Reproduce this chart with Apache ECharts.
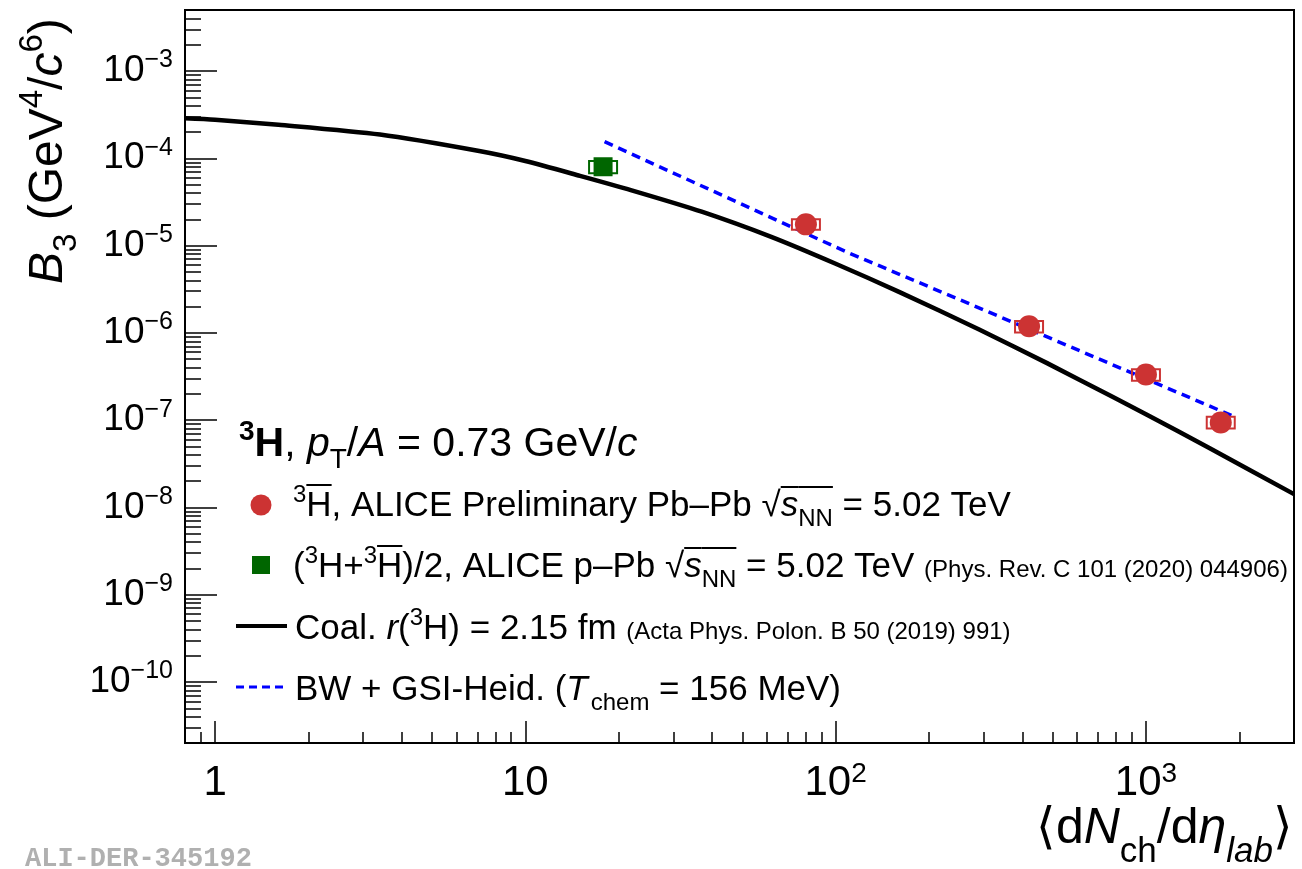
<!DOCTYPE html>
<html>
<head>
<meta charset="utf-8">
<script src="https://cdn.jsdelivr.net/npm/echarts@6/dist/echarts.min.js"></script>
<style>
  html, body { margin: 0; padding: 0; background: #fff; }
  #main { width: 1302px; height: 869px; }
</style>
</head>
<body>
<div id="main"></div>
<script>
// axis ranges (log axes, stored as raw values)
const xRange = [0.8, 3000];
const yRange = [2e-11, 5e-3];
const xMajor = [1, 10, 100, 1000];
const yMajor = [1e-10, 1e-9, 1e-8, 1e-7, 1e-6, 1e-5, 1e-4, 1e-3];

// anti-triton, ALICE preliminary Pb-Pb 5.02 TeV
const pbpbX = [80.2, 420, 1000, 1742];
const pbpbY = [1.75e-5, 1.19e-6, 3.34e-7, 9.42e-8];
const pbpbSysLo = [1.52e-5, 1.01e-6, 2.82e-7, 8.04e-8];
const pbpbSysHi = [2.0e-5, 1.37e-6, 3.84e-7, 1.09e-7];

// (3H + anti-3H)/2, ALICE p-Pb 5.02 TeV
const ppbX = [17.8];
const ppbY = [8.0e-5];
const ppbSysLo = [6.73e-5];
const ppbSysHi = [9.3e-5];

// coalescence, r(3H) = 2.15 fm
const coalX = [0.8, 1, 1.6, 3.4, 7.1, 10, 15, 22, 37, 62, 100, 160, 290, 480, 780, 1000, 1600, 3000];
const coalY = [2.87e-4, 2.76e-4, 2.42e-4, 1.87e-4, 1.21e-4, 9.3e-5, 6.3e-5, 4.3e-5, 2.45e-5, 1.26e-5,
               6.2e-6, 2.95e-6, 1.09e-6, 4.5e-7, 1.85e-7, 1.17e-7, 4.8e-8, 1.42e-8];

// BW + GSI-Heid. (T_chem = 156 MeV)
const bwX = [18, 108, 292, 1935];
const bwY = [1.55e-4, 8.5e-6, 1.91e-6, 1.09e-7];

const lg = Math.log10;
const RED = '#cc3333';
const GREEN = '#006600';
const FONT = '"Liberation Sans", Arial, Helvetica, sans-serif';

// minor ticks 2..9 x 10^n inside a range
function minorTicks(r) {
  const out = [];
  for (let n = Math.floor(lg(r[0])); n <= Math.ceil(lg(r[1])); n++) {
    for (let k = 2; k <= 9; k++) {
      const v = k * Math.pow(10, n);
      if (v >= r[0] && v <= r[1]) out.push(lg(v));
    }
  }
  return out;
}

// little TLatex-like helper: segments laid out along a baseline
const mctx = document.createElement('canvas').getContext('2d');
function fontOf(s, base) {
  return (s.it ? 'italic ' : '') + (s.b ? 'bold ' : '') + (s.size || base) + 'px ' + (s.fam || FONT);
}
function midShift(font) {
  mctx.font = font;
  mctx.textBaseline = 'alphabetic';
  const a = mctx.measureText('H').actualBoundingBoxAscent;
  mctx.textBaseline = 'middle';
  const b = mctx.measureText('H').actualBoundingBoxAscent;
  mctx.textBaseline = 'alphabetic';
  return a - b;
}
function segWidth(segs, base) {
  let w = 0;
  segs.forEach(s => {
    if (s.gap) { w += s.gap; return; }
    mctx.font = fontOf(s, base);
    w += mctx.measureText(s.t).width;
  });
  return w;
}
function latex(x0, y0, base, segs, color, alignRight) {
  let x = alignRight ? x0 - segWidth(segs, base) : x0;
  const els = [];
  segs.forEach(s => {
    if (s.gap) { x += s.gap; return; }
    const font = fontOf(s, base);
    mctx.font = font;
    const w = mctx.measureText(s.t).width;
    const yb = y0 + (s.dy || 0);
    els.push({
      type: 'text', x: x, y: yb - midShift(font), silent: true,
      style: { text: s.t, font: font, fill: s.color || color || '#000',
               align: 'left', verticalAlign: 'middle', textAlign: 'left', textVerticalAlign: 'middle' }
    });
    if (s.ol !== undefined) {
      els.push({ type: 'line', silent: true,
        shape: { x1: x, y1: y0 + s.ol, x2: x + w, y2: y0 + s.ol },
        style: { stroke: color || '#000', lineWidth: 2 } });
    }
    x += w;
  });
  return els;
}

// systematic boxes
function sysSeries(xs, lo, hi, color) {
  return {
    type: 'custom', z: 3, silent: true,
    data: xs.map((x, i) => [lg(x), lg(lo[i]), lg(hi[i])]),
    encode: { x: 0, y: [1, 2] },
    renderItem(params, api) {
      const a = api.coord([api.value(0), api.value(2)]);
      const b = api.coord([api.value(0), api.value(1)]);
      const hw = 14;
      return { type: 'rect', shape: { x: a[0] - hw, y: a[1], width: 2 * hw, height: b[1] - a[1] },
               style: { fill: 'none', stroke: color, lineWidth: 2 } };
    }
  };
}

const L = 35;        // legend text size
const SUP = 24;
const REF = 24;
const legendText = [].concat(
  latex(239, 456, 41, [
    { t: '3', b: 1, size: 28, dy: -16 }, { t: 'H', b: 1 }, { t: ', ' }, { t: 'p', it: 1 },
    { t: 'T', size: 28, dy: 12 }, { t: '/' }, { t: 'A', it: 1 }, { t: ' = 0.73 GeV/' }, { t: 'c', it: 1 }
  ]),
  latex(293, 516, L, [
    { t: '3', size: SUP, dy: -14 }, { t: 'H', ol: -31 }, { t: ', ALICE Preliminary Pb\u2013Pb ' },
    { t: '\u221A' }, { t: 's', it: 1, ol: -29 }, { t: 'NN', size: SUP, dy: 10, ol: -29 }, { t: ' = 5.02 TeV' }
  ]),
  latex(293, 577, L, [
    { t: '(' }, { t: '3', size: SUP, dy: -14 }, { t: 'H+' }, { t: '3', size: SUP, dy: -14 }, { t: 'H', ol: -31 },
    { t: ')/2, ALICE p\u2013Pb ' }, { t: '\u221A' }, { t: 's', it: 1, ol: -29 },
    { t: 'NN', size: SUP, dy: 10, ol: -29 }, { t: ' = 5.02 TeV ' },
    { t: '(Phys. Rev. C 101 (2020) 044906)', size: REF }
  ]),
  latex(295, 639, L, [
    { t: 'Coal. ' }, { t: 'r', it: 1 }, { t: '(' }, { t: '3', size: SUP, dy: -14 },
    { t: 'H) = 2.15 fm ' }, { t: '(Acta Phys. Polon. B 50 (2019) 991)', size: REF }
  ]),
  latex(295, 700, L, [
    { t: 'BW + GSI-Heid. (' }, { t: 'T', it: 1 }, { gap: 3 }, { t: 'chem', size: SUP, dy: 10 },
    { t: ' = 156 MeV)' }
  ])
);

const legendKeys = [
  { type: 'circle', shape: { cx: 261, cy: 505, r: 10.5 }, style: { fill: RED } },
  { type: 'rect', shape: { x: 252, y: 556, width: 18, height: 18 }, style: { fill: GREEN } },
  { type: 'line', shape: { x1: 236, y1: 626, x2: 287, y2: 626 }, style: { stroke: '#000', lineWidth: 4 } },
  { type: 'line', shape: { x1: 236, y1: 687, x2: 287, y2: 687 },
    style: { stroke: '#0000ff', lineWidth: 3, lineDash: [8, 5] } }
];

const yTitle = {
  type: 'group', x: 62, y: 284, rotation: Math.PI / 2,
  children: latex(0, 0, 48, [
    { t: 'B', it: 1 }, { t: '3', size: 33, dy: 14 }, { t: ' (GeV' }, { t: '4', size: 33, dy: -20 },
    { t: '/' }, { t: 'c', it: 1 }, { t: '6', size: 33, dy: -20 }, { t: ')' }
  ])
};

const xTitle = latex(1293, 843, 50, [
  { t: '\u27E8' }, { t: 'd' }, { t: 'N', it: 1 }, { t: 'ch', size: 35, dy: 19 }, { t: '/d' },
  { t: '\u03B7', it: 1 }, { t: 'lab', it: 1, size: 35, dy: 19 }, { t: '\u27E9' }
], '#000', true);

const watermark = latex(25, 866, 27, [
  { t: 'ALI-DER-345192', b: 1, fam: '"Liberation Mono", "DejaVu Sans Mono", monospace' }
], '#b0b0b0');

const xMin = lg(xRange[0]), xMax = lg(xRange[1]);
const yMin = lg(yRange[0]), yMax = lg(yRange[1]);

function xAxisBase(extra) {
  return Object.assign({
    type: 'value', min: xMin, max: xMax, position: 'bottom',
    splitLine: { show: false }
  }, extra);
}
function yAxisBase(extra) {
  return Object.assign({
    type: 'value', min: yMin, max: yMax, position: 'left',
    splitLine: { show: false }
  }, extra);
}

const chart = echarts.init(document.getElementById('main'), null, { renderer: 'canvas' });
chart.setOption({
  animation: false,
  backgroundColor: '#fff',
  grid: { left: 185, right: 8, top: 10, bottom: 126, show: true, borderColor: '#000', borderWidth: 2,
          containLabel: false },
  xAxis: [
    xAxisBase({
      axisLine: { show: true, onZero: false, lineStyle: { color: '#000', width: 2 } },
      axisTick: { inside: true, length: 22, lineStyle: { color: '#000', width: 1.5 },
                  customValues: xMajor.map(lg) },
      axisLabel: {
        customValues: xMajor.map(lg), margin: 17, color: '#000', fontFamily: 'Liberation Sans',
        formatter: v => {
          const n = Math.round(v);
          if (n === 0) return '{m|1}';
          if (n === 1) return '{m|10}';
          return '{m|10}{s|' + n + '}';
        },
        rich: {
          m: { fontSize: 42, lineHeight: 46, fontFamily: 'Liberation Sans', color: '#000' },
          s: { fontSize: 28, lineHeight: 23, verticalAlign: 'top', fontFamily: 'Liberation Sans', color: '#000' }
        }
      }
    }),
    xAxisBase({
      axisLine: { show: false, onZero: false },
      axisTick: { inside: true, length: 11, lineStyle: { color: '#000', width: 1.5 },
                  customValues: minorTicks(xRange) },
      axisLabel: { show: false }
    })
  ],
  yAxis: [
    yAxisBase({
      axisLine: { show: true, onZero: false, lineStyle: { color: '#000', width: 2 } },
      axisTick: { inside: true, length: 32, lineStyle: { color: '#000', width: 1.5 },
                  customValues: yMajor.map(lg) },
      axisLabel: {
        customValues: yMajor.map(lg), margin: 12, color: '#000', fontFamily: 'Liberation Sans',
        formatter: v => '{m|10}{s|\u2212' + (-Math.round(v)) + '}',
        rich: {
          m: { fontSize: 37, lineHeight: 46, fontFamily: 'Liberation Sans', color: '#000' },
          s: { fontSize: 25, lineHeight: 32, verticalAlign: 'top', fontFamily: 'Liberation Sans', color: '#000' }
        }
      }
    }),
    yAxisBase({
      axisLine: { show: false, onZero: false },
      axisTick: { inside: true, length: 16, lineStyle: { color: '#000', width: 1.5 },
                  customValues: minorTicks(yRange) },
      axisLabel: { show: false }
    })
  ],
  series: [
    {
      name: 'Coal.', type: 'line', z: 2, symbol: 'none', smooth: 0.25,
      lineStyle: { color: '#000', width: 4.5 },
      data: coalX.map((x, i) => [lg(x), lg(coalY[i])])
    },
    {
      name: 'BW + GSI-Heid.', type: 'line', z: 2, symbol: 'none',
      lineStyle: { color: '#0000ff', width: 3.5, type: [9, 6] },
      data: bwX.map((x, i) => [lg(x), lg(bwY[i])])
    },
    sysSeries(ppbX, ppbSysLo, ppbSysHi, GREEN),
    sysSeries(pbpbX, pbpbSysLo, pbpbSysHi, RED),
    {
      name: 'p-Pb', type: 'scatter', z: 4, symbol: 'rect', symbolSize: 19,
      itemStyle: { color: GREEN, opacity: 1 },
      data: ppbX.map((x, i) => [lg(x), lg(ppbY[i])])
    },
    {
      name: 'Pb-Pb', type: 'scatter', z: 4, symbol: 'circle', symbolSize: 22,
      itemStyle: { color: RED, opacity: 1 },
      data: pbpbX.map((x, i) => [lg(x), lg(pbpbY[i])])
    }
  ],
  graphic: { elements: [].concat(legendKeys, legendText, [yTitle], xTitle, watermark) }
});
</script>
</body>
</html>
